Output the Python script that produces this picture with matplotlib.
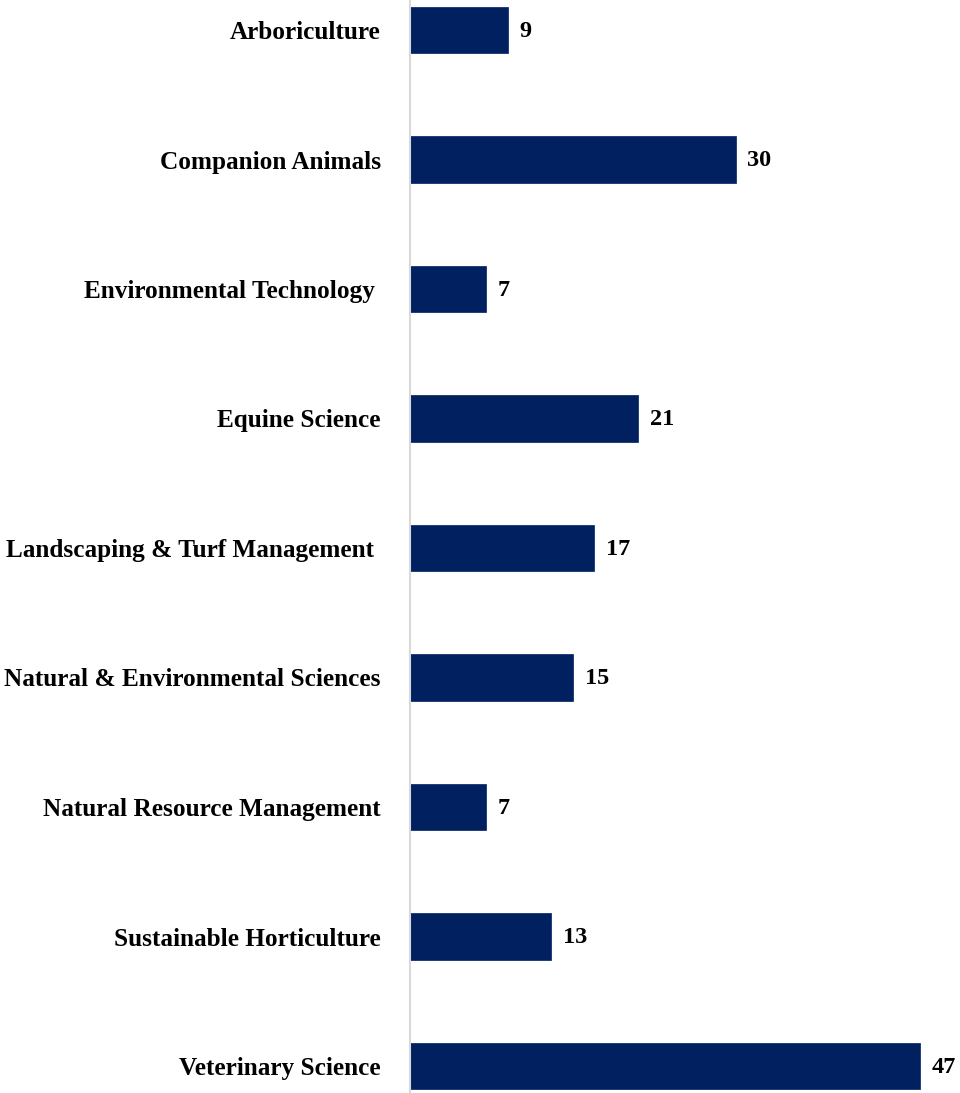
import matplotlib
matplotlib.use("Agg")
import matplotlib.pyplot as plt

categories = ["Arboriculture", "Companion Animals", "Environmental Technology ",
              "Equine Science", "Landscaping & Turf Management ",
              "Natural & Environmental Sciences", "Natural Resource Management",
              "Sustainable Horticulture", "Veterinary Science"]
values = [9, 30, 7, 21, 17, 15, 7, 13, 47]

plt.rcParams['font.family'] = ['Liberation Serif', 'DejaVu Serif']

fig = plt.figure(figsize=(9.6, 10.93), dpi=100)
ax = fig.add_axes([410/960, 0, 1 - 410/960, 1])
pos = list(range(len(categories)))
bars = ax.barh(pos, values, height=0.36, color="#002060", edgecolor="#002060", linewidth=0.5)
ax.set_ylim(8 + 27/129.5, -30/129.5)
ax.set_xlim(0, 550/10.85)
ax.set_yticks(pos)
ax.set_yticklabels(categories, fontsize=18.2, fontweight='bold')
ax.tick_params(axis='y', length=0, pad=21)
ax.set_xticks([])
for s in ['top', 'right', 'bottom']:
    ax.spines[s].set_visible(False)
ax.spines['left'].set_color('#d9d9d9')
ax.spines['left'].set_linewidth(1.5)
for p, v in zip(pos, values):
    ax.annotate(str(v), (v, p), xytext=(8.5, -1), textcoords='offset points',
                va='center', ha='left', fontsize=17.5, fontweight='bold')
fig.savefig("out.png", dpi=100)
